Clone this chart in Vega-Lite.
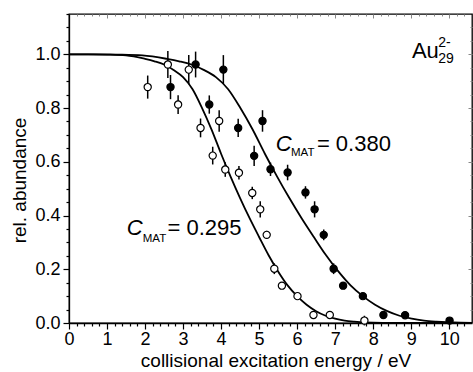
{
  "$schema": "https://vega.github.io/schema/vega-lite/v6.json",
  "width": 403,
  "height": 309,
  "autosize": {"type": "none"},
  "padding": {"left": 69, "top": 14, "right": 1, "bottom": 49},
  "background": "white",
  "config": {
    "font": "Liberation Sans",
    "view": {"stroke": "black", "strokeWidth": 1.3},
    "axis": {"grid": false, "domainColor": "black", "domainWidth": 1.3, "tickColor": "black", "tickWidth": 1.2, "labelColor": "black", "titleColor": "black", "labelFont": "Liberation Sans", "titleFont": "Liberation Sans", "labelFontSize": 18, "titleFontSize": 19, "titleFontWeight": "normal"}
  },
  "datasets": {
    "points": [
      {"E": 2.07, "v": 0.878, "lo": 0.835, "hi": 0.921, "series": "open"},
      {"E": 2.60, "v": 0.962, "lo": 0.912, "hi": 1.012, "series": "open"},
      {"E": 2.87, "v": 0.813, "lo": 0.778, "hi": 0.848, "series": "open"},
      {"E": 3.15, "v": 0.943, "lo": 0.889, "hi": 0.997, "series": "open"},
      {"E": 3.46, "v": 0.726, "lo": 0.691, "hi": 0.761, "series": "open"},
      {"E": 3.78, "v": 0.623, "lo": 0.590, "hi": 0.656, "series": "open"},
      {"E": 3.95, "v": 0.752, "lo": 0.712, "hi": 0.792, "series": "open"},
      {"E": 4.11, "v": 0.571, "lo": 0.544, "hi": 0.598, "series": "open"},
      {"E": 4.47, "v": 0.559, "lo": 0.534, "hi": 0.584, "series": "open"},
      {"E": 4.82, "v": 0.484, "lo": 0.461, "hi": 0.507, "series": "open"},
      {"E": 5.03, "v": 0.423, "lo": 0.393, "hi": 0.453, "series": "open"},
      {"E": 5.20, "v": 0.328, "lo": 0.313, "hi": 0.343, "series": "open"},
      {"E": 5.40, "v": 0.202, "lo": 0.182, "hi": 0.222, "series": "open"},
      {"E": 5.60, "v": 0.139, "lo": 0.129, "hi": 0.149, "series": "open"},
      {"E": 6.01, "v": 0.100, "lo": 0.092, "hi": 0.108, "series": "open"},
      {"E": 6.43, "v": 0.030, "lo": 0.022, "hi": 0.038, "series": "open"},
      {"E": 6.86, "v": 0.030, "lo": 0.022, "hi": 0.038, "series": "open"},
      {"E": 7.77, "v": 0.009, "lo": -0.009, "hi": 0.027, "series": "open"},
      {"E": 2.67, "v": 0.878, "lo": 0.833, "hi": 0.923, "series": "filled"},
      {"E": 3.33, "v": 0.962, "lo": 0.914, "hi": 1.010, "series": "filled"},
      {"E": 3.69, "v": 0.813, "lo": 0.779, "hi": 0.847, "series": "filled"},
      {"E": 4.06, "v": 0.943, "lo": 0.889, "hi": 0.997, "series": "filled"},
      {"E": 4.45, "v": 0.726, "lo": 0.692, "hi": 0.760, "series": "filled"},
      {"E": 4.87, "v": 0.622, "lo": 0.584, "hi": 0.660, "series": "filled"},
      {"E": 5.09, "v": 0.752, "lo": 0.712, "hi": 0.792, "series": "filled"},
      {"E": 5.30, "v": 0.572, "lo": 0.547, "hi": 0.597, "series": "filled"},
      {"E": 5.75, "v": 0.560, "lo": 0.531, "hi": 0.589, "series": "filled"},
      {"E": 6.22, "v": 0.486, "lo": 0.463, "hi": 0.509, "series": "filled"},
      {"E": 6.46, "v": 0.423, "lo": 0.393, "hi": 0.453, "series": "filled"},
      {"E": 6.70, "v": 0.328, "lo": 0.308, "hi": 0.348, "series": "filled"},
      {"E": 6.96, "v": 0.202, "lo": 0.182, "hi": 0.222, "series": "filled"},
      {"E": 7.21, "v": 0.139, "lo": 0.129, "hi": 0.149, "series": "filled"},
      {"E": 7.73, "v": 0.100, "lo": 0.092, "hi": 0.108, "series": "filled"},
      {"E": 8.27, "v": 0.030, "lo": 0.022, "hi": 0.038, "series": "filled"},
      {"E": 8.84, "v": 0.029, "lo": 0.021, "hi": 0.037, "series": "filled"},
      {"E": 10.01, "v": 0.009, "lo": -0.001, "hi": 0.019, "series": "filled"}
    ],
    "curves": [
      {"E": 0, "v": 1.000, "fit": "0.295"},
      {"E": 0.5, "v": 1.000, "fit": "0.295"},
      {"E": 1.0, "v": 0.999, "fit": "0.295"},
      {"E": 1.5, "v": 0.996, "fit": "0.295"},
      {"E": 2.0, "v": 0.983, "fit": "0.295"},
      {"E": 2.25, "v": 0.974, "fit": "0.295"},
      {"E": 2.5, "v": 0.962, "fit": "0.295"},
      {"E": 2.75, "v": 0.942, "fit": "0.295"},
      {"E": 3.0, "v": 0.915, "fit": "0.295"},
      {"E": 3.25, "v": 0.870, "fit": "0.295"},
      {"E": 3.5, "v": 0.800, "fit": "0.295"},
      {"E": 3.75, "v": 0.720, "fit": "0.295"},
      {"E": 4.0, "v": 0.630, "fit": "0.295"},
      {"E": 4.25, "v": 0.545, "fit": "0.295"},
      {"E": 4.5, "v": 0.465, "fit": "0.295"},
      {"E": 4.75, "v": 0.390, "fit": "0.295"},
      {"E": 5.0, "v": 0.320, "fit": "0.295"},
      {"E": 5.25, "v": 0.252, "fit": "0.295"},
      {"E": 5.5, "v": 0.192, "fit": "0.295"},
      {"E": 5.75, "v": 0.140, "fit": "0.295"},
      {"E": 6.0, "v": 0.100, "fit": "0.295"},
      {"E": 6.25, "v": 0.068, "fit": "0.295"},
      {"E": 6.5, "v": 0.044, "fit": "0.295"},
      {"E": 6.75, "v": 0.027, "fit": "0.295"},
      {"E": 7.0, "v": 0.016, "fit": "0.295"},
      {"E": 7.25, "v": 0.009, "fit": "0.295"},
      {"E": 7.5, "v": 0.005, "fit": "0.295"},
      {"E": 8.0, "v": 0.001, "fit": "0.295"},
      {"E": 8.5, "v": 0.000, "fit": "0.295"},
      {"E": 10.6, "v": 0.000, "fit": "0.295"},
      {"E": 0, "v": 1.000, "fit": "0.380"},
      {"E": 0.644, "v": 1.000, "fit": "0.380"},
      {"E": 1.288, "v": 0.999, "fit": "0.380"},
      {"E": 1.932, "v": 0.996, "fit": "0.380"},
      {"E": 2.576, "v": 0.983, "fit": "0.380"},
      {"E": 2.898, "v": 0.974, "fit": "0.380"},
      {"E": 3.22, "v": 0.962, "fit": "0.380"},
      {"E": 3.542, "v": 0.942, "fit": "0.380"},
      {"E": 3.864, "v": 0.915, "fit": "0.380"},
      {"E": 4.186, "v": 0.870, "fit": "0.380"},
      {"E": 4.508, "v": 0.800, "fit": "0.380"},
      {"E": 4.83, "v": 0.720, "fit": "0.380"},
      {"E": 5.152, "v": 0.630, "fit": "0.380"},
      {"E": 5.474, "v": 0.545, "fit": "0.380"},
      {"E": 5.796, "v": 0.465, "fit": "0.380"},
      {"E": 6.118, "v": 0.390, "fit": "0.380"},
      {"E": 6.44, "v": 0.320, "fit": "0.380"},
      {"E": 6.762, "v": 0.252, "fit": "0.380"},
      {"E": 7.084, "v": 0.192, "fit": "0.380"},
      {"E": 7.406, "v": 0.140, "fit": "0.380"},
      {"E": 7.728, "v": 0.100, "fit": "0.380"},
      {"E": 8.05, "v": 0.068, "fit": "0.380"},
      {"E": 8.372, "v": 0.044, "fit": "0.380"},
      {"E": 8.694, "v": 0.027, "fit": "0.380"},
      {"E": 9.016, "v": 0.016, "fit": "0.380"},
      {"E": 9.338, "v": 0.009, "fit": "0.380"},
      {"E": 9.66, "v": 0.005, "fit": "0.380"},
      {"E": 10.3, "v": 0.001, "fit": "0.380"},
      {"E": 10.6, "v": 0.0003, "fit": "0.380"}
    ],
    "labels": [
      {"x": 5.44, "y": 0.640, "text": "C", "role": "symbol"},
      {"x": 1.52, "y": 0.327, "text": "C", "role": "symbol"},
      {"x": 6.52, "y": 0.640, "text": "= 0.380", "role": "main"},
      {"x": 2.59, "y": 0.327, "text": "= 0.295", "role": "main"},
      {"x": 9.02, "y": 0.988, "text": "Au", "role": "main"},
      {"x": 5.84, "y": 0.621, "text": "MAT", "role": "index"},
      {"x": 1.94, "y": 0.302, "text": "MAT", "role": "index"},
      {"x": 9.71, "y": 1.026, "text": "2-", "role": "script"},
      {"x": 9.71, "y": 0.967, "text": "29", "role": "script"}
    ]
  },
  "resolve": {"axis": {"x": "independent", "y": "independent"}},
  "layer": [
    {
      "data": {"name": "curves"},
      "mark": {"type": "line", "color": "black", "strokeWidth": 1.8, "interpolate": "monotone"},
      "encoding": {
        "x": {"field": "E", "type": "quantitative", "scale": {"domain": [0, 10.6], "nice": false, "zero": false},
          "axis": {"orient": "bottom", "title": "collisional excitation energy / eV", "values": [0,0.2,0.4,0.6,0.8,1,1.2,1.4,1.6,1.8,2,2.2,2.4,2.6,2.8,3,3.2,3.4,3.6,3.8,4,4.2,4.4,4.6,4.8,5,5.2,5.4,5.6,5.8,6,6.2,6.4,6.6,6.8,7,7.2,7.4,7.6,7.8,8,8.2,8.4,8.6,8.8,9,9.2,9.4,9.6,9.8,10,10.2,10.4],
            "labelExpr": "abs(datum.value - round(datum.value)) < 1e-6 ? format(datum.value, 'd') : ''",
            "labelOverlap": false, "labelFlush": false, "labelPadding": 1,
            "tickSize": {"condition": {"test": "abs(datum.value - round(datum.value)) < 1e-6", "value": 6}, "value": 3},
            "titleX": 206.5, "titleY": 43, "titleBaseline": "alphabetic", "titleAlign": "center", "titleAnchor": null}},
        "y": {"field": "v", "type": "quantitative", "scale": {"domain": [0, 1.15], "nice": false, "zero": false},
          "axis": {"orient": "left", "title": "rel. abundance", "values": [0,0.05,0.1,0.15,0.2,0.25,0.3,0.35,0.4,0.45,0.5,0.55,0.6,0.65,0.7,0.75,0.8,0.85,0.9,0.95,1,1.05,1.1,1.15],
            "labelExpr": "abs(datum.value*5 - round(datum.value*5)) < 1e-6 ? format(datum.value, '.1f') : ''",
            "labelOverlap": false, "labelFlush": false, "labelPadding": 3,
            "tickSize": {"condition": {"test": "abs(datum.value*5 - round(datum.value*5)) < 1e-6", "value": 6}, "value": 3},
            "titleX": -44, "titleY": 166, "titleAngle": -90, "titleBaseline": "alphabetic", "titleAlign": "center", "titleAnchor": null}},
        "detail": {"field": "fit"}
      }
    },
    {
      "data": {"name": "points"},
      "mark": {"type": "rule", "color": "black", "strokeWidth": 1.5},
      "encoding": {
        "x": {"field": "E", "type": "quantitative",
          "axis": {"orient": "top", "title": null, "labels": false, "domain": false, "values": [0,0.2,0.4,0.6,0.8,1,1.2,1.4,1.6,1.8,2,2.2,2.4,2.6,2.8,3,3.2,3.4,3.6,3.8,4,4.2,4.4,4.6,4.8,5,5.2,5.4,5.6,5.8,6,6.2,6.4,6.6,6.8,7,7.2,7.4,7.6,7.8,8,8.2,8.4,8.6,8.8,9,9.2,9.4,9.6,9.8,10,10.2,10.4],
            "tickColor": "#888", "tickWidth": 1,
            "tickSize": {"condition": {"test": "abs(datum.value - round(datum.value)) < 1e-6", "value": -4}, "value": -2}}},
        "y": {"field": "lo", "type": "quantitative",
          "axis": {"orient": "right", "title": null, "labels": false, "domain": false, "values": [0,0.05,0.1,0.15,0.2,0.25,0.3,0.35,0.4,0.45,0.5,0.55,0.6,0.65,0.7,0.75,0.8,0.85,0.9,0.95,1,1.05,1.1],
            "tickColor": "#888", "tickWidth": 1,
            "tickSize": {"condition": {"test": "abs(datum.value*5 - round(datum.value*5)) < 1e-6", "value": -4}, "value": -2}}},
        "y2": {"field": "hi"}
      }
    },
    {
      "data": {"name": "points"},
      "mark": {"type": "point", "shape": "circle", "filled": false, "stroke": "black", "strokeWidth": 1.2, "size": 52, "opacity": 1},
      "encoding": {
        "x": {"field": "E", "type": "quantitative", "axis": null},
        "y": {"field": "v", "type": "quantitative", "axis": null},
        "fill": {"field": "series", "type": "nominal", "scale": {"domain": ["open", "filled"], "range": ["white", "black"]}, "legend": null}
      }
    },
    {
      "data": {"name": "labels"},
      "transform": [{"filter": "datum.role === 'symbol'"}],
      "mark": {"type": "text", "align": "left", "baseline": "alphabetic", "fontSize": 22, "fontStyle": "italic", "color": "black", "font": "Liberation Sans"},
      "encoding": {
        "x": {"field": "x", "type": "quantitative", "axis": null},
        "y": {"field": "y", "type": "quantitative", "axis": null},
        "text": {"field": "text"}
      }
    },
    {
      "data": {"name": "labels"},
      "transform": [{"filter": "datum.role === 'main'"}],
      "mark": {"type": "text", "align": "left", "baseline": "alphabetic", "fontSize": 22, "color": "black", "font": "Liberation Sans"},
      "encoding": {
        "x": {"field": "x", "type": "quantitative", "axis": null},
        "y": {"field": "y", "type": "quantitative", "axis": null},
        "text": {"field": "text"}
      }
    },
    {
      "data": {"name": "labels"},
      "transform": [{"filter": "datum.role === 'index'"}],
      "mark": {"type": "text", "align": "left", "baseline": "alphabetic", "fontSize": 11.5, "color": "black", "font": "Liberation Sans"},
      "encoding": {
        "x": {"field": "x", "type": "quantitative", "axis": null},
        "y": {"field": "y", "type": "quantitative", "axis": null},
        "text": {"field": "text"}
      }
    },
    {
      "data": {"name": "labels"},
      "transform": [{"filter": "datum.role === 'script'"}],
      "mark": {"type": "text", "align": "left", "baseline": "alphabetic", "fontSize": 14, "color": "black", "font": "Liberation Sans"},
      "encoding": {
        "x": {"field": "x", "type": "quantitative", "axis": null},
        "y": {"field": "y", "type": "quantitative", "axis": null},
        "text": {"field": "text"}
      }
    }
  ]
}
